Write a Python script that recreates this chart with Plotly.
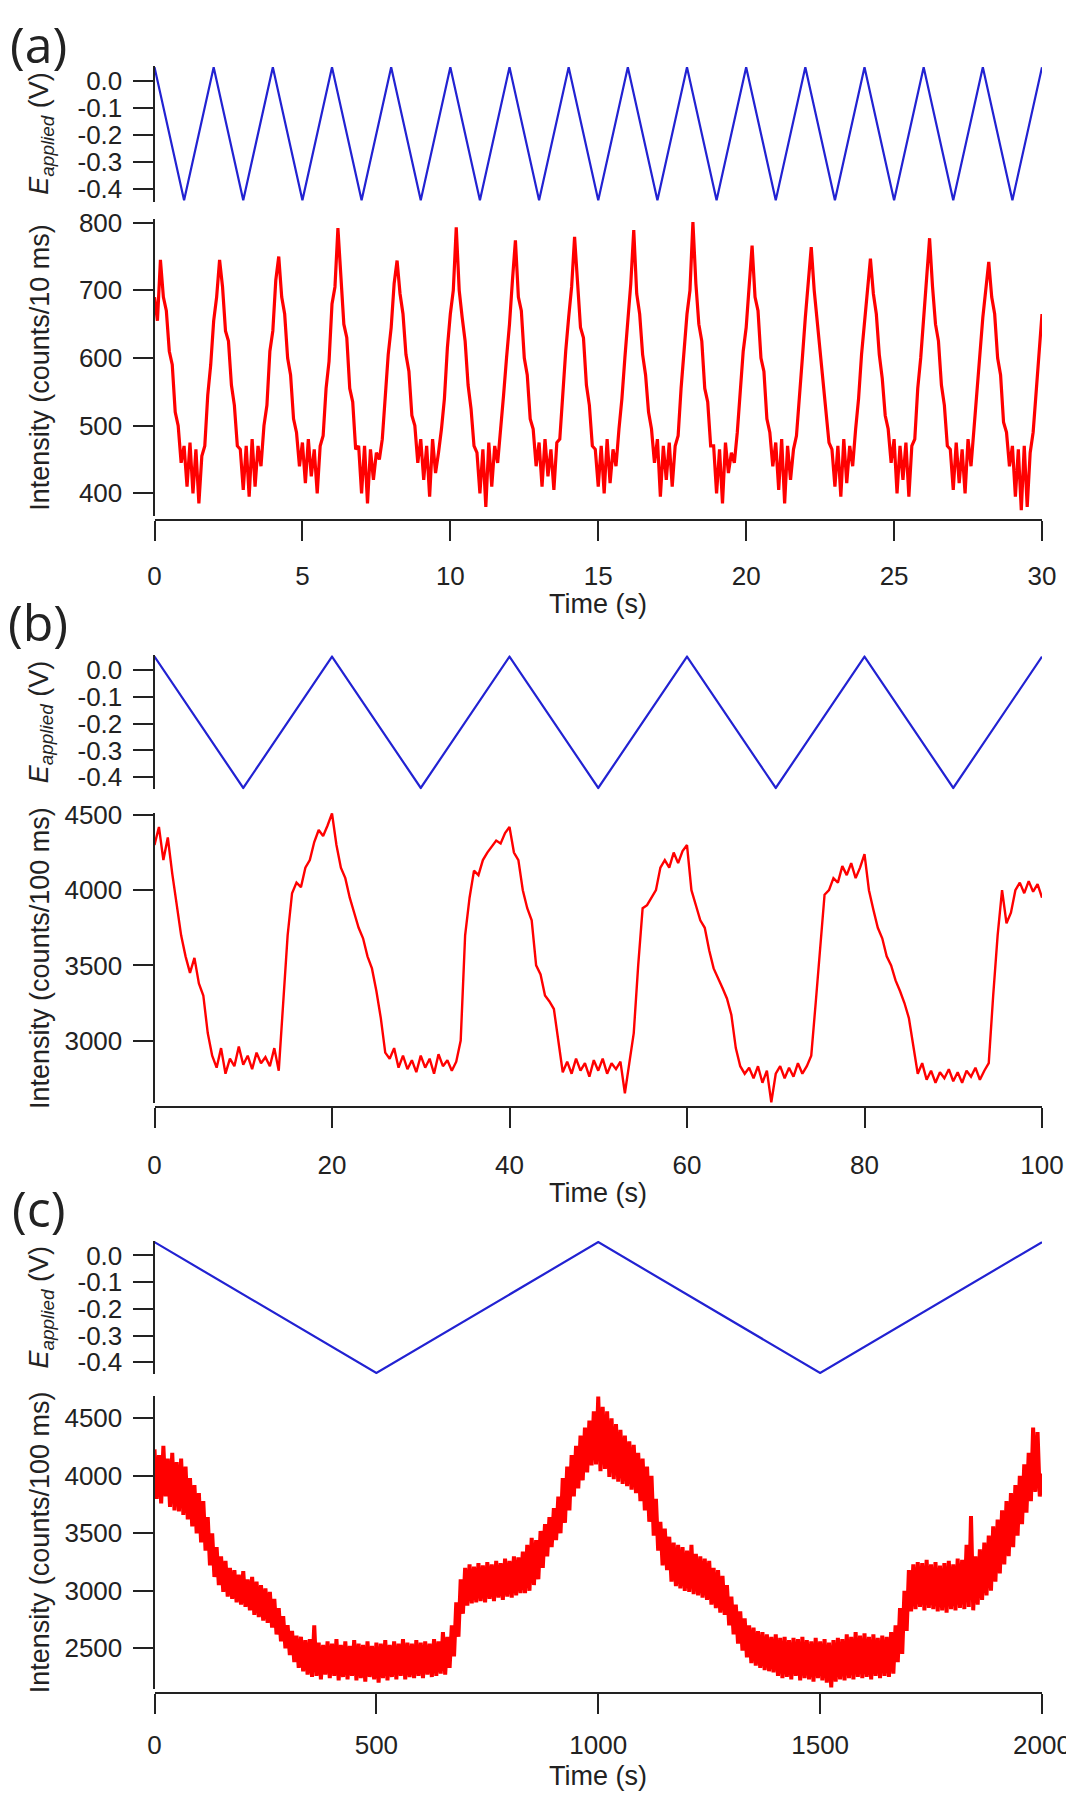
import numpy as np
import plotly.graph_objects as go

# ---------------- Panel (a) ----------------
a_pot_time = [0, 1, 2, 3, 4, 5, 6, 7, 8, 9, 10, 11, 12, 13, 14, 15, 16, 17, 18, 19, 20,
              21, 22, 23, 24, 25, 26, 27, 28, 29, 30]
a_pot_volt = [0.05, -0.44, 0.05, -0.44, 0.05, -0.44, 0.05, -0.44, 0.05, -0.44, 0.05,
              -0.44, 0.05, -0.44, 0.05, -0.44, 0.05, -0.44, 0.05, -0.44, 0.05,
              -0.44, 0.05, -0.44, 0.05, -0.44, 0.05, -0.44, 0.05, -0.44, 0.05]
a_int_step = 0.1  # s per sample
a_int_counts = [
    690, 655, 745, 690, 670, 610, 590, 520, 500, 445, 470, 410, 475, 400, 465, 385, 455, 470, 545, 590,
    655, 690, 745, 705, 640, 625, 560, 530, 470, 465, 405, 470, 395, 480, 410, 470, 440, 500, 530, 610,
    640, 715, 750, 690, 665, 600, 575, 510, 490, 440, 475, 415, 480, 425, 465, 400, 470, 485, 555, 595,
    680, 705, 792, 710, 650, 630, 555, 535, 465, 470, 400, 470, 385, 465, 420, 460, 450, 480, 550, 605,
    645, 710, 744, 695, 665, 605, 580, 515, 500, 445, 480, 420, 470, 395, 480, 430, 460, 495, 540, 615,
    665, 700, 793, 700, 660, 625, 560, 525, 470, 460, 400, 465, 380, 475, 410, 470, 445, 490, 545, 600,
    650, 715, 774, 690, 670, 600, 575, 510, 495, 440, 475, 410, 480, 425, 465, 405, 475, 480, 550, 610,
    660, 705, 779, 705, 645, 630, 560, 530, 470, 465, 410, 470, 400, 480, 415, 465, 440, 495, 540, 600,
    655, 710, 789, 695, 665, 605, 575, 520, 495, 445, 480, 395, 470, 420, 475, 410, 470, 485, 555, 605,
    665, 700, 801, 710, 650, 625, 555, 535, 470, 470, 400, 465, 385, 475, 430, 460, 445, 490, 545, 610,
    645, 705, 766, 690, 670, 600, 580, 510, 490, 440, 475, 405, 480, 385, 470, 420, 465, 485, 550, 600,
    660, 715, 764, 700, 655, 620, 565, 525, 475, 465, 410, 470, 395, 480, 415, 470, 440, 495, 540, 605,
    650, 700, 747, 695, 665, 605, 570, 515, 495, 445, 480, 400, 470, 420, 475, 395, 470, 480, 555, 600,
    655, 710, 777, 705, 650, 625, 560, 530, 470, 465, 405, 475, 415, 465, 400, 480, 440, 495, 545, 605,
    660, 700, 742, 690, 665, 600, 575, 505, 490, 440, 470, 395, 465, 375, 470, 380, 460, 490, 550, 600,
    665]

# ---------------- Panel (b) ----------------
b_pot_time = [0, 10, 20, 30, 40, 50, 60, 70, 80, 90, 100]
b_pot_volt = [0.05, -0.44, 0.05, -0.44, 0.05, -0.44, 0.05, -0.44, 0.05, -0.44, 0.05]
b_int_step = 0.5
b_int_counts = [
    4300, 4420, 4200, 4350, 4110, 3900, 3700, 3560, 3450, 3550,
    3380, 3300, 3050, 2900, 2820, 2950, 2780, 2880, 2830, 2960,
    2840, 2900, 2810, 2920, 2850, 2890, 2830, 2950, 2800, 3250,
    3700, 3980, 4050, 4020, 4150, 4200, 4320, 4400, 4360, 4430,
    4510, 4300, 4150, 4080, 3950, 3850, 3750, 3680, 3560, 3480,
    3330, 3150, 2920, 2880, 2950, 2820, 2900, 2810, 2870, 2790,
    2900, 2820, 2880, 2780, 2910, 2830, 2870, 2800, 2860, 3000,
    3700, 3950, 4130, 4100, 4200, 4250, 4290, 4330, 4310, 4380,
    4420, 4250, 4200, 4000, 3880, 3800, 3500, 3440, 3300, 3260,
    3210, 3000, 2790, 2860, 2780, 2880, 2800, 2850, 2760, 2870,
    2800, 2880, 2780, 2850, 2810, 2860, 2650, 2850, 3050, 3500,
    3880, 3900, 3950, 4000, 4150, 4200, 4150, 4250, 4180, 4260,
    4300, 4000, 3900, 3800, 3750, 3600, 3480, 3420, 3350, 3280,
    3170, 2950, 2830, 2780, 2820, 2750, 2830, 2720, 2800, 2590,
    2780, 2830, 2750, 2820, 2760, 2850, 2780, 2830, 2900, 3250,
    3600, 3970, 4000, 4080, 4050, 4160, 4100, 4180, 4080, 4150,
    4240, 4000, 3870, 3750, 3680, 3560, 3500, 3400, 3330, 3250,
    3150, 2950, 2780, 2850, 2740, 2800, 2720, 2790, 2750, 2810,
    2730, 2790, 2720, 2800, 2760, 2820, 2740, 2800, 2850, 3300,
    3700, 4000, 3780, 3850, 4000, 4050, 3980, 4060, 3990, 4040,
    3950]

# ---------------- Panel (c) ----------------
c_pot_time = [0, 500, 1000, 1500, 2000]
c_pot_volt = [0.05, -0.44, 0.05, -0.44, 0.05]
c_int_step = 5
c_int_counts = [
    4230, 3800, 4180, 3760, 4260, 3820, 4150, 3730, 4200, 3700, 4120, 3690, 4150, 3660, 4080, 3620, 3980, 3560, 3920, 3500,
    3850, 3420, 3780, 3350, 3640, 3220, 3500, 3120, 3380, 3050, 3300, 2990, 3260, 2950, 3200, 2930, 3180, 2900, 3140, 2880,
    3170, 2860, 3100, 2830, 3120, 2790, 3080, 2770, 3050, 2740, 3020, 2720, 2990, 2680, 2930, 2620, 2850, 2560, 2780, 2500,
    2700, 2440, 2650, 2380, 2610, 2330, 2600, 2300, 2570, 2270, 2580, 2250, 2700, 2260, 2550, 2230, 2530, 2270, 2560, 2240,
    2540, 2260, 2580, 2220, 2530, 2250, 2560, 2230, 2520, 2260, 2570, 2220, 2540, 2240, 2530, 2210, 2560, 2250, 2520, 2230,
    2550, 2200, 2540, 2240, 2570, 2220, 2530, 2250, 2560, 2230, 2540, 2260, 2580, 2230, 2550, 2250, 2540, 2240, 2570, 2260,
    2550, 2240, 2560, 2270, 2540, 2250, 2580, 2260, 2560, 2280, 2640, 2270, 2600, 2330, 2700, 2430, 2900, 2600, 3100, 2800,
    3200, 2870, 3230, 2890, 3210, 2900, 3240, 2910, 3220, 2900, 3250, 2930, 3230, 2910, 3260, 2940, 3240, 2920, 3280, 2950,
    3260, 2940, 3300, 2960, 3290, 2980, 3340, 2980, 3400, 3000, 3460, 3050, 3440, 3100, 3520, 3200, 3580, 3300, 3640, 3380,
    3720, 3440, 3820, 3500, 3980, 3590, 4080, 3700, 4180, 3820, 4260, 3890, 4350, 3960, 4420, 4030, 4480, 4090, 4560, 4100,
    4690, 4040, 4600, 4060, 4560, 3990, 4500, 3970, 4450, 3950, 4400, 3930, 4350, 3910, 4300, 3880, 4270, 3850, 4200, 3780,
    4150, 3700, 4080, 3600, 4000, 3480, 3800, 3350, 3600, 3220, 3540, 3180, 3470, 3080, 3420, 3040, 3400, 3020, 3380, 3000,
    3350, 2990, 3400, 2970, 3320, 2960, 3300, 2940, 3280, 2920, 3260, 2880, 3200, 2850, 3180, 2810, 3130, 2790, 3050, 2700,
    2950, 2620, 2880, 2540, 2820, 2480, 2760, 2420, 2700, 2370, 2680, 2350, 2650, 2330, 2640, 2310, 2620, 2300, 2600, 2290,
    2620, 2260, 2590, 2240, 2600, 2250, 2570, 2230, 2590, 2260, 2580, 2220, 2600, 2240, 2570, 2230, 2560, 2210, 2590, 2240,
    2560, 2220, 2580, 2200, 2550, 2160, 2570, 2210, 2590, 2230, 2580, 2220, 2620, 2240, 2600, 2230, 2640, 2250, 2610, 2240,
    2630, 2250, 2600, 2230, 2620, 2260, 2590, 2240, 2610, 2260, 2600, 2250, 2640, 2280, 2700, 2380, 2850, 2450, 3000, 2650,
    3180, 2820, 3230, 2840, 3250, 2860, 3240, 2830, 3270, 2850, 3230, 2840, 3250, 2820, 3220, 2830, 3240, 2810, 3260, 2840,
    3230, 2830, 3280, 2850, 3270, 2840, 3400, 2860, 3650, 2830, 3300, 2880, 3360, 2920, 3420, 2960, 3480, 3000, 3560, 3080,
    3620, 3150, 3700, 3230, 3780, 3300, 3850, 3380, 3920, 3480, 4000, 3580, 4100, 3680, 4200, 3780, 4420, 3860, 4380, 3820,
    4020]

# tick values / labels
pot_tick_vals = [0.0, -0.1, -0.2, -0.3, -0.4]
pot_tick_text = [f"{v:.1f}" for v in pot_tick_vals]
a_int_ticks = [400, 500, 600, 700, 800]
b_int_ticks = [3000, 3500, 4000, 4500]
c_int_ticks = [2500, 3000, 3500, 4000, 4500]
a_time_ticks = [0, 5, 10, 15, 20, 25, 30]
b_time_ticks = [0, 20, 40, 60, 80, 100]
c_time_ticks = [0, 500, 1000, 1500, 2000]

# The page body keeps an 8 px margin, so the figure sits 8 px in from the corner;
# it is sized so that the page does not scroll.
PAGE_OFF = 8
W, H = 1074 - PAGE_OFF, 1800 - 2 * PAGE_OFF
FONT = "Liberation Sans, Arial, sans-serif"
INK = "#222222"
BLUE = "#2222d2"
RED = "#ff0000"

def fx(px):  # page pixel -> paper fraction
    return (px - PAGE_OFF) / W

def fy(py):
    return 1 - (py - PAGE_OFF) / H

x_dom = [fx(154.5), fx(1042)]

fig = go.Figure()

panels = [
    dict(px="x", py="y", iy="y2",
         pt=a_pot_time, pv=a_pot_volt, step=a_int_step, iv=a_int_counts, lw=3.2),
    dict(px="x2", py="y3", iy="y4",
         pt=b_pot_time, pv=b_pot_volt, step=b_int_step, iv=b_int_counts, lw=2.4),
    dict(px="x3", py="y5", iy="y6",
         pt=c_pot_time, pv=c_pot_volt, step=c_int_step, iv=c_int_counts, lw=4.0),
]

for p in panels:
    fig.add_trace(go.Scatter(x=p["pt"], y=p["pv"], mode="lines",
                             line=dict(color=BLUE, width=2.2),
                             xaxis=p["px"], yaxis=p["py"], hoverinfo="skip"))
    t = np.arange(len(p["iv"])) * p["step"]
    fig.add_trace(go.Scatter(x=t, y=p["iv"], mode="lines",
                             line=dict(color=RED, width=p["lw"]),
                             xaxis=p["px"], yaxis=p["iy"], hoverinfo="skip"))

common = dict(showline=True, linecolor=INK, linewidth=2, ticks="outside",
              ticklen=20, tickwidth=2, tickcolor=INK, showgrid=False,
              zeroline=False, automargin=False,
              tickfont=dict(family=FONT, size=26, color=INK))

layout_spec = [
    dict(xline=520, xr=[0, 30], xt=a_time_ticks, xstand=13,
         pot_px=(65.8, 201.5), int_px=(219.3, 516.3), ir=[366, 805], it=a_int_ticks),
    dict(xline=1107.3, xr=[0, 100], xt=b_time_ticks, xstand=14,
         pot_px=(655.3, 789.3), int_px=(812.7, 1103.2), ir=[2584, 4515], it=b_int_ticks),
    dict(xline=1692.7, xr=[0, 2000], xt=c_time_ticks, xstand=9,
         pot_px=(1240.8, 1374.3), int_px=(1395.9, 1688.5), ir=[2150, 4695], it=c_int_ticks),
]

lay = {}
for i, s in enumerate(layout_spec):
    xn = "xaxis" if i == 0 else f"xaxis{i+1}"
    xref = "x" if i == 0 else f"x{i+1}"
    pyn = "yaxis" if i == 0 else f"yaxis{2*i+1}"
    iyn = f"yaxis{2*i+2}"
    lay[xn] = dict(common, domain=x_dom, range=s["xr"], tickvals=s["xt"],
                   anchor="free", position=fy(s["xline"]), ticklabelstandoff=s["xstand"])
    lay[pyn] = dict(common, domain=[fy(s["pot_px"][1]), fy(s["pot_px"][0])],
                    range=[-0.445, 0.055], tickvals=pot_tick_vals,
                    ticktext=pot_tick_text, anchor=xref, ticklabelstandoff=5)
    lay[iyn] = dict(common, domain=[fy(s["int_px"][1]), fy(s["int_px"][0])],
                    range=s["ir"], tickvals=s["it"], anchor=xref, ticklabelstandoff=5)

fig.update_layout(width=W, height=H, autosize=False,
                  margin=dict(l=0, r=0, t=0, b=0, autoexpand=False),
                  paper_bgcolor="white", plot_bgcolor="white",
                  showlegend=False, **lay)

ann = []
LABEL_FONT = dict(family="Open Sans, sans-serif", size=50, color=INK)
ann.append(dict(text="(a)", x=fx(38), y=fy(PAGE_OFF), xref="paper", yref="paper",
                showarrow=False, xanchor="center", yanchor="top", font=LABEL_FONT))
for txt, ymid in [("(b)", 622), ("(c)", 1208)]:
    ann.append(dict(text=txt, x=fx(38), y=fy(ymid), xref="paper", yref="paper",
                    showarrow=False, xanchor="center", yanchor="middle", font=LABEL_FONT))

TITLE_FONT = dict(family=FONT, size=27, color=INK)
int_titles = ["Intensity (counts/10 ms)", "Intensity (counts/100 ms)", "Intensity (counts/100 ms)"]
for i, s in enumerate(layout_spec):
    pc = (s["pot_px"][0] + s["pot_px"][1]) / 2
    ic = (s["int_px"][0] + s["int_px"][1]) / 2
    ann.append(dict(text="<i>E</i><sub><i>applied</i></sub> (V)", x=fx(41), y=fy(pc),
                    xref="paper", yref="paper", showarrow=False, textangle=-90,
                    xanchor="center", yanchor="middle", font=TITLE_FONT))
    ann.append(dict(text=int_titles[i], x=fx(40), y=fy(ic),
                    xref="paper", yref="paper", showarrow=False, textangle=-90,
                    xanchor="center", yanchor="middle", font=TITLE_FONT))

for ypx in [604, 1193, 1776]:
    ann.append(dict(text="Time (s)", x=fx(598), y=fy(ypx), xref="paper", yref="paper",
                    showarrow=False, xanchor="center", yanchor="middle", font=TITLE_FONT))

fig.update_layout(annotations=ann)
fig.write_html("out.html")
